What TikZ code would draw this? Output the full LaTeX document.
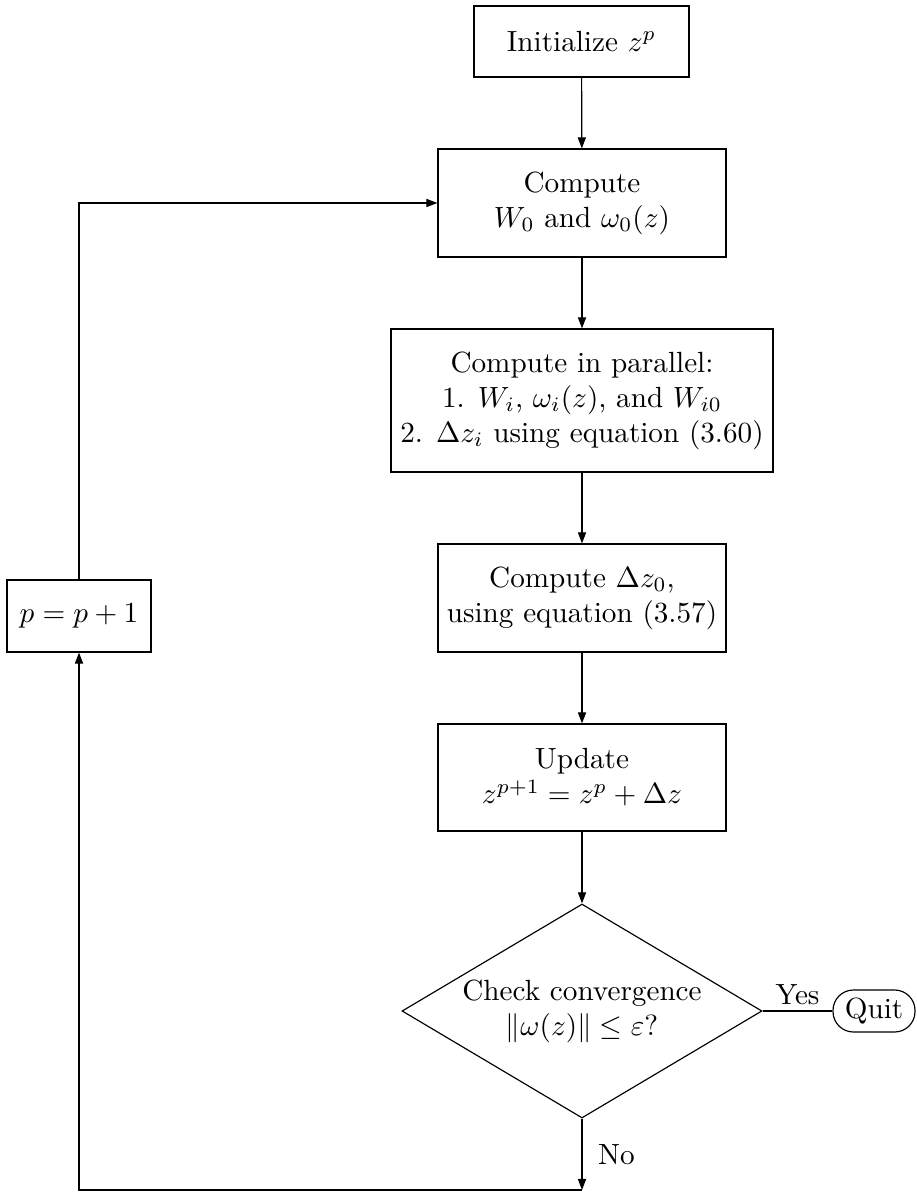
\documentclass[tikz,border=0pt]{standalone}
\usetikzlibrary{shapes.geometric,arrows.meta}
\begin{document}
\begin{tikzpicture}[x=0.3425pt,y=-0.3425pt,
  box/.style={draw,rectangle,align=center,inner sep=0pt},
  stdbox/.style={box,minimum width=98.64pt,minimum height=36.99pt},
  decide/.style={draw,diamond,aspect=1.68,inner sep=0pt,align=center,minimum width=123.3pt,minimum height=73.3pt},
  term/.style={draw,rectangle,rounded corners=7pt,minimum width=28.09pt,minimum height=14.39pt,inner sep=0pt},
  arr/.style={-{Triangle[length=3.8pt,width=2.8pt]}},
  line width=0.4pt]
\useasboundingbox (0,0) rectangle (916,1192);
\node[box,minimum width=73.64pt,minimum height=24.32pt] (init) at (581.5,41.5) {Initialize $z^p$};
\node[stdbox] (w0) at (582,203) {Compute\\ $W_0$ and $\omega_0(z)$};
\node[box,minimum width=130.8pt,minimum height=48.98pt] (par) at (582,400.5) {Compute in parallel:\\ 1. $W_i$, $\omega_i(z)$, and $W_{i0}$\\ 2. $\Delta z_i$ using equation (3.60)};
\node[stdbox] (dz) at (582,598) {Compute $\Delta z_0$,\\ using equation (3.57)};
\node[stdbox,minimum height=36.65pt] (upd) at (582,777.5) {Update\\ $z^{p+1}=z^p+\Delta z$};
\node[decide] (chk) at (582,1011) {Check convergence\\ $\|\omega(z)\|\le\varepsilon$?};
\node[term] (quit) at (874,1011) {Quit};
\node[box,minimum width=49.32pt,minimum height=24.66pt] (pp) at (79,616) {$p=p+1$};
\coordinate (b) at (582,1190);
\draw[arr] (init) -- (w0);
\draw[arr] (w0) -- (par);
\draw[arr] (par) -- (dz);
\draw[arr] (dz) -- (upd);
\draw[arr] (upd) -- (chk);
\draw (chk.east) -- node[above,inner sep=2pt]{Yes} (quit.west);
\draw[arr] (chk.south) -- node[right,xshift=2pt]{No} (b);
\draw[arr] (b) -| (pp.south);
\draw[arr] (pp.north) |- (w0.west);
\end{tikzpicture}
\end{document}
